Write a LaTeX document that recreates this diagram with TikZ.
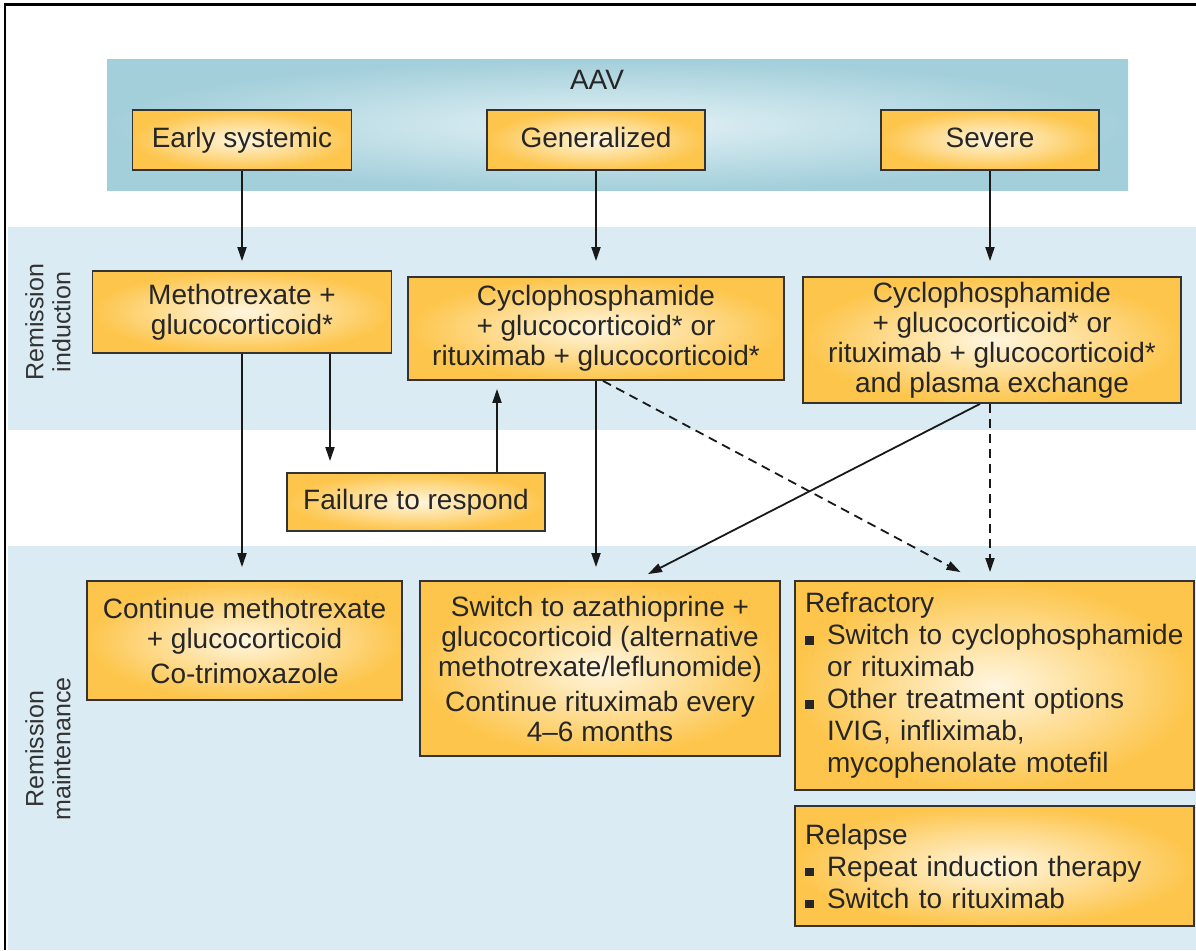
\documentclass[tikz,border=0pt]{standalone}
\usepackage{fontspec}
\setsansfont{Liberation Sans}
\usetikzlibrary{arrows.meta,calc}
\definecolor{boxorange}{HTML}{FDC54B}
\definecolor{boxcream}{HTML}{FFF6E0}
\definecolor{aavblue}{HTML}{A3CFDB}
\definecolor{aavlight}{HTML}{E3F1F5}
\definecolor{bandblue}{HTML}{DAEBF3}
\definecolor{edgegray}{HTML}{333333}
\newcommand{\sqbul}{\makebox[22pt][l]{\rule{8.5pt}{8.5pt}}}
\newcommand{\bulgap}{\hspace*{22pt}}

\begin{document}
\begin{tikzpicture}[x=1pt,y=-1pt,>={Triangle[length=14pt,width=9pt]},
  box/.style={draw=edgegray,line width=1.8pt,inner color=boxcream,outer color=boxorange,
    align=center,inner sep=0pt,text=black!85,font=\sffamily\fontsize{28}{30}\selectfont},
  topbox/.style={box,minimum width=218pt,minimum height=60pt,text height=20pt,text depth=6pt},
  listbox/.style={box,align=left,inner xsep=10pt,text width=379pt,
    font=\sffamily\fontsize{28}{32}\selectfont},
  link/.style={->,line width=1.8pt,black!90},
  dashlink/.style={link,dash pattern=on 9pt off 6pt},
  side/.style={rotate=90,align=center,text=black!80,font=\sffamily\fontsize{25}{27}\selectfont}]
  \useasboundingbox (0,0) rectangle (1196,950);
  % frame and bands
  \draw[line width=2.5pt] (5,950) -- (5,4.5) -- (1196,4.5);
  \fill[bandblue] (8,227) rectangle (1196,430);
  \fill[bandblue] (8,546) rectangle (1196,950);
  \shade[inner color=aavlight,outer color=aavblue] (107,60) rectangle (1128,190);
  \node[text=black!85,font=\sffamily\fontsize{28}{30}\selectfont] (aav) at (597,80) {AAV};
  \node[side] (induct) at (48,322) {Remission\\induction};
  \node[side] (maint) at (48,749) {Remission\\maintenance};

  % disease classes
  \node[topbox,minimum width=219pt] (early) at (242,140) {Early systemic};
  \node[topbox] (gen) at (596,140) {Generalized};
  \node[topbox] (sev) at (990,140) {Severe};

  % induction
  \node[box,minimum width=299pt,minimum height=82pt] (mtx) at (242,312) {Methotrexate +\\glucocorticoid*};
  \node[box,minimum width=376pt,minimum height=103pt] (cycg) at (596,328.5)
    {Cyclophosphamide\\+ glucocorticoid* or\\rituximab + glucocorticoid*};
  \node[box,minimum width=378pt,minimum height=126pt] (cycs) at (992,340)
    {Cyclophosphamide\\+ glucocorticoid* or\\rituximab + glucocorticoid*\\and plasma exchange};
  \node[box,minimum width=258pt,minimum height=58pt] (fail) at (416,502) {Failure to respond};

  % maintenance
  \node[box,minimum width=315pt,minimum height=119pt] (cont) at (244.5,640.5)
    {Continue methotrexate\\+ glucocorticoid\\[5pt]Co-trimoxazole};
  \node[box,minimum width=360pt,minimum height=175pt] (switch) at (600,668.5)
    {Switch to azathioprine +\\glucocorticoid (alternative\\methotrexate/leflunomide)\\[5pt]Continue rituximab every\\4--6 months};
  \node[listbox,minimum height=209pt] (refr) at (994.5,685.5)
    {Refractory\\\sqbul Switch to cyclophosphamide\\\bulgap or rituximab\\\sqbul Other treatment options\\\bulgap IVIG, infliximab,\\\bulgap mycophenolate motefil};
  \node[listbox,minimum height=120pt] (rel) at (994.5,866)
    {Relapse\\\sqbul Repeat induction therapy\\\sqbul Switch to rituximab};

  % connectors
  \coordinate (mtxfoot) at ($(mtx.south)+(88,0)$);
  \coordinate (failtop) at ($(fail.north)+(81,0)$);
  \coordinate (cycsfoot) at ($(cycs.south)+(-2,0)$);
  \draw[link,shorten >=9pt] (early) -- (mtx);
  \draw[link,shorten >=15pt] (gen) -- (cycg);
  \draw[link,shorten >=15pt] (sev.south) -- (sev.south |- cycs.north);
  \draw[link,shorten >=13pt] (mtx.south) -- (mtx.south |- cont.north);
  \draw[link,shorten >=11pt] (mtxfoot) -- (mtxfoot |- fail.north);
  \draw[link,shorten >=8pt] (failtop) -- (failtop |- cycg.south);
  \draw[link,shorten >=13pt] (cycg.south) -- (cycg.south |- switch.north);
  \draw[link] ($(cycs.south)+(-12,0)$) -- ($(switch.north)+(48,-6)$);
  \draw[dashlink] ($(cycg.south)+(7,0)$) -- ($(refr.north)+(-34,-8)$);
  \draw[dashlink,shorten >=8pt] (cycsfoot) -- (cycsfoot |- refr.north);
\end{tikzpicture}
\end{document}
